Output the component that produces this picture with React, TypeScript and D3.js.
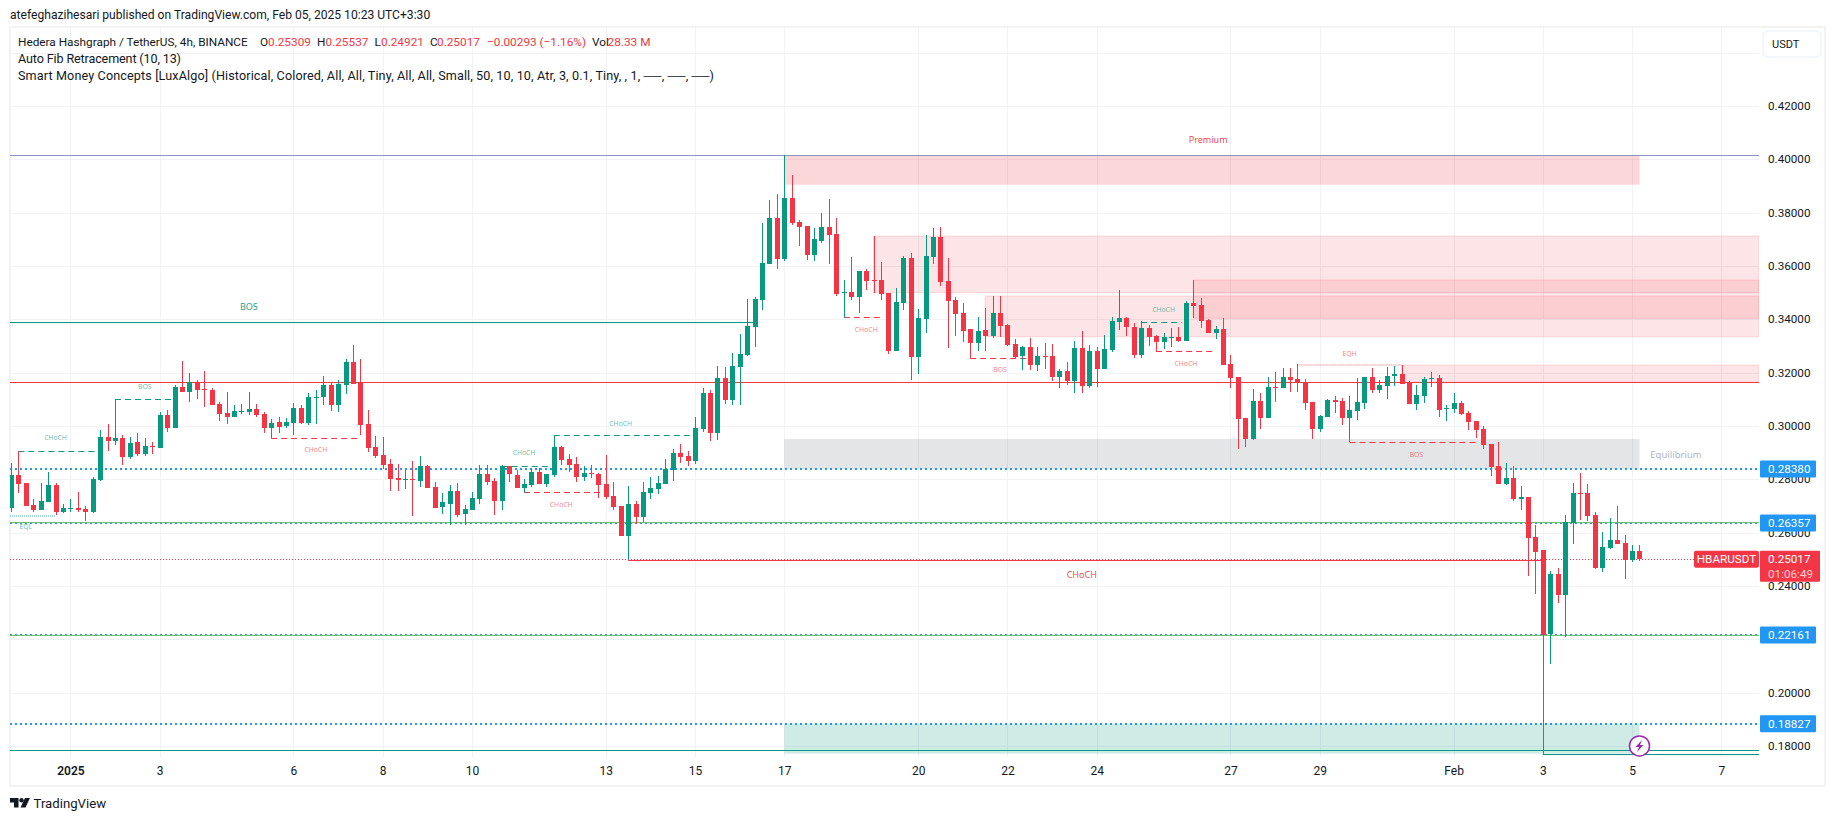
import { useEffect, useRef } from 'react'
import * as d3 from 'd3'

// 4h candles, first one is 8 bars before Jan 1
const opens = [
  .26908,.28158,.27858,.27033,.26845,.27145,.27783,.2677,.26883,.2692,
  .26883,.2677,.2797,.29583,.29433,.29545,.28833,.29395,.2895,.29245,
  .2917,.30408,.2992,.31458,.3127,.31645,.31382,.31345,.3082,.30483,
  .30333,.3052,.3052,.30633,.30445,.2992,.30145,.29995,.30108,.3067,
  .30108,.31045,.3107,.31533,.30783,.31533,.32383,.3162,.3007,.29208,
  .28908,.2857,.28045,.2797,.28008,.27933,.28495,.27708,.26958,.2707,
  .27558,.26695,.26845,.27258,.28195,.27933,.27183,.28495,.28158,.2767,
  .27783,.2827,.2782,.28158,.29208,.28758,.2857,.28083,.28233,.28195,
  .2782,.2737,.26995,.2587,.2707,.26583,.27483,.27633,.2782,.28345,
  .28983,.2887,.28683,.29883,.31233,.29733,.31795,.3097,.3222,.32658,
  .33708,.3472,.3607,.37795,.36258,.38545,.37645,.37495,.36408,.36933,
  .37458,.37195,.34983,.3502,.34833,.35808,.3547,.3547,.34983,.32808,
  .34608,.36295,.32583,.34008,.36333,.37083,.35433,.3472,.34233,.33633,
  .33108,.33595,.3337,.34233,.33783,.3307,.3262,.32958,.32283,.3262,
  .3262,.31833,.32058,.31683,.3292,.31495,.32808,.32133,.32845,.33895,
  .34045,.33708,.32658,.3367,.3337,.33145,.33295,.33333,.33183,.34608,
  .34533,.3397,.33483,.33633,.3232,.31833,.30295,.29508,.30933,.30295,
  .31458,.3142,.31833,.31758,.31645,.30895,.29883,.30333,.3097,.30933,
  .30295,.30558,.30858,.31833,.31345,.31495,.3187,.31945,.31645,.3082,
  .3112,.31758,.31795,.30633,.30633,.30858,.30483,.30183,.29883,.2932,
  .28495,.2782,.28045,.27258,.27333,.25833,.25345,.22195,.24445,.23658,
  .26358,.27483,.27483,.26658,.2467,.2542,.2572,.25608,.2497,.25309,
]
const highs = [
  .2862,.29058,.27858,.27258,.27858,.2827,.27858,.2707,.27258,.2752,
  .26995,.28083,.2985,.3007,.31008,.29658,.29583,.29733,.29545,.29395,
  .3052,.30595,.31533,.32433,.31983,.3172,.3207,.31408,.30908,.31283,
  .30783,.3082,.31283,.3082,.3052,.30258,.30333,.30295,.30858,.30783,
  .3125,.31345,.3187,.31658,.3172,.32495,.33033,.32508,.30595,.2962,
  .29583,.28758,.2857,.28345,.28683,.2887,.28533,.27895,.27483,.27783,
  .27858,.27033,.2752,.28533,.28533,.28045,.28533,.28495,.28345,.28008,
  .2842,.2842,.28195,.29658,.29245,.2895,.28833,.28495,.28533,.28233,
  .28908,.27895,.26995,.27745,.27183,.27895,.28083,.2812,.28758,.2912,
  .2932,.29058,.30333,.3142,.31345,.32245,.32195,.3272,.33445,.34758,
  .3485,.37608,.3847,.38695,.40146,.39408,.3772,.37495,.3742,.37983,
  .38508,.37795,.3547,.36333,.35808,.35883,.3712,.36145,.34983,.3517,
  .3637,.36483,.34383,.37158,.3742,.37458,.36295,.34833,.34608,.33633,
  .34083,.3442,.3487,.3487,.3382,.33258,.32995,.33295,.32958,.33108,
  .3307,.32133,.32395,.33183,.33558,.33033,.32958,.33408,.34083,.35095,
  .34083,.33858,.33933,.33783,.33408,.33483,.3367,.33708,.34683,.3547,
  .34795,.34008,.33745,.34045,.32658,.31833,.30295,.31383,.31233,.31833,
  .3202,.3217,.3217,.3232,.31758,.30895,.30408,.31008,.3112,.31045,
  .3112,.31795,.31833,.3217,.3172,.32208,.32245,.32283,.31683,.31533,
  .31833,.3202,.31908,.30783,.31233,.30933,.30558,.30183,.29995,.2932,
  .29395,.28608,.28495,.27745,.27333,.26283,.25345,.24558,.2467,.26658,
  .27858,.28233,.2782,.2677,.2602,.26545,.26995,.25908,.25533,.25537,
]
const lows = [
  .26783,.27495,.26995,.2677,.26845,.27145,.26658,.26733,.2677,.2677,
  .26433,.26733,.27933,.29058,.29283,.28533,.28758,.2887,.2887,.2895,
  .2917,.2977,.2992,.3127,.30908,.3102,.3072,.30783,.30183,.3007,
  .30333,.30445,.30408,.30333,.29733,.29533,.29733,.2992,.29658,.3007,
  .30033,.3007,.30783,.30558,.3052,.31195,.3157,.29658,.2902,.28795,
  .28383,.27558,.27558,.27633,.2662,.27708,.2767,.2692,.26695,.26283,
  .26583,.26283,.26845,.2707,.27783,.26658,.26845,.27895,.2767,.27495,
  .27708,.2782,.27708,.28083,.28533,.2827,.27895,.27933,.28045,.27295,
  .27258,.26845,.2587,.24995,.2632,.26395,.27258,.27445,.2782,.27933,
  .28608,.28495,.2857,.2977,.29433,.2947,.3082,.30783,.30783,.3262,
  .3294,.34345,.3607,.35883,.36183,.37533,.36745,.3622,.36183,.36858,
  .3607,.3487,.34045,.3472,.34233,.35095,.34983,.3472,.32695,.32808,
  .34345,.3172,.31958,.33483,.3607,.35245,.3292,.3337,.33145,.32545,
  .32808,.32808,.33295,.33333,.32995,.32508,.32095,.32095,.32058,.32133,
  .31683,.3142,.31533,.31233,.31233,.3142,.31458,.32133,.3277,.33595,
  .3337,.32545,.32545,.32995,.3277,.32883,.32958,.33145,.33183,.34045,
  .3367,.33483,.33258,.32283,.3142,.29133,.29208,.2947,.29883,.30295,
  .30895,.3142,.3127,.3127,.30595,.29508,.2977,.30333,.30483,.30033,
  .29395,.3022,.30633,.31233,.31233,.31008,.31495,.3157,.3082,.30595,
  .30858,.31458,.30333,.30183,.30483,.30408,.29845,.29545,.29133,.2812,
  .2782,.27783,.27183,.26845,.2437,.23695,.17695,.2107,.23358,.22083,
  .2557,.2647,.26433,.24633,.2452,.25383,.2557,.24258,.24895,.24921,
]
const closes = [
  .28158,.2782,.26995,.26845,.27183,.27783,.2677,.2692,.2692,.26845,
  .2677,.28008,.29583,.29433,.29545,.28833,.29358,.2895,.29245,.29208,
  .30408,.2992,.31458,.3127,.31633,.31345,.31345,.30783,.30445,.30333,
  .30558,.30558,.30633,.30408,.2992,.30108,.29958,.30145,.3067,.30108,
  .3107,.31095,.31533,.30783,.3157,.32383,.3157,.30033,.2917,.2887,
  .28533,.28008,.2797,.28008,.2797,.28495,.2767,.2692,.27145,.27558,
  .26658,.26883,.27295,.28195,.27895,.27183,.28495,.282,.2767,.2782,
  .2827,.2782,.28195,.29208,.2872,.28533,.28083,.28233,.28195,.27783,
  .27333,.26958,.2587,.2707,.26583,.2752,.2767,.27858,.28383,.28983,
  .28833,.28683,.2992,.31233,.29733,.31795,.3097,.32245,.32695,.33745,
  .34758,.36108,.37795,.36258,.38545,.37608,.37458,.36408,.37,.37458,
  .37158,.34945,.3502,.34833,.35808,.35433,.35433,.34945,.32808,.34645,
  .36295,.32583,.34045,.3637,.37083,.35395,.34683,.34195,.33558,.33108,
  .33558,.3337,.34233,.33745,.33033,.32583,.3297,.32283,.3262,.32583,
  .31833,.32058,.31683,.3292,.31495,.32808,.32133,.32883,.33933,.34045,
  .33708,.32658,.3367,.33333,.33145,.33333,.33333,.33183,.34608,.34495,
  .33933,.33483,.33633,.32283,.31795,.30258,.29508,.30933,.30295,.31458,
  .3142,.31833,.3172,.31633,.30858,.29883,.3037,.3097,.30895,.30295,
  .30595,.30895,.31833,.31345,.31533,.3187,.31945,.3157,.3082,.31158,
  .31758,.31795,.30595,.3067,.30858,.30445,.30145,.29845,.29283,.28458,
  .2782,.28045,.27258,.27333,.25795,.2527,.22158,.24445,.23658,.26395,
  .27483,.27445,.2662,.2467,.25458,.2572,.2557,.2497,.25308,.25017,
]

const priceTicks = [.42, .4, .38, .36, .34, .32, .3, .28, .26, .24, .22, .2, .18]
const gridPrices = [.44, ...priceTicks]
const dateTicks = ['2025-01-01', '2025-01-03', '2025-01-06', '2025-01-08', '2025-01-10', '2025-01-13', '2025-01-15', '2025-01-17', '2025-01-20', '2025-01-22', '2025-01-24', '2025-01-27', '2025-01-29', '2025-02-01', '2025-02-03', '2025-02-05', '2025-02-07']
const dateLabels = ['2025', '3', '6', '8', '10', '13', '15', '17', '20', '22', '24', '27', '29', 'Feb', '3', '5', '7']

const fibLevels = [.2838, .26357, .22161, .18827]
const lastClose = .25017

// [from bar, to bar (null = chart edge), top, bottom, kind]
const zones: [number, number | null, number, number, string][] = [
  [104, 219, .40146, .39044, 'premium'],
  [116, null, .3712, .34994, 'block'],
  [131, null, .3487, .33344, 'block'],
  [159, null, .3547, .34034, 'block'],
  [187, null, .32282, .31634, 'block'],
  [104, 219, .29507, .2838, 'equilibrium'],
  [104, 219, .18827, .1771, 'discount'],
]

// [from bar (null = chart edge), to bar (null = chart edge), price, colour]
const solidLines: [number | null, number | null, number, string][] = [
  [null, null, .40146, '#8c94c2'],
  [null, 100, .33883, '#089981'],
  [null, null, .31634, '#f23645'],
  [null, null, .26385, '#6fbf73'],
  [null, null, .22155, '#6fbf73'],
  [83, 206, .2497, '#f23645'],
  [null, null, .17845, '#089981'],
  [206, null, .17695, '#089981'],
]

// [from bar, to bar, price, up?]
const dashedLines: [number, number, number, boolean][] = [
  [1, 12, .29045, true],
  [14, 22, .31008, true],
  [35, 47, .29533, false],
  [66, 72.5, .28508, true],
  [69, 80, .27508, false],
  [73, 92, .29645, true],
  [112, 117, .34083, false],
  [129, 137, .32535, false],
  [152, 157.5, .33883, true],
  [154, 162, .32808, false],
  [180, 197, .29383, false],
]
const equalLines: [number | null, number, number, boolean][] = [
  [null, 6, .2662, true],
  [173, 187, .32283, false],
]

// [text, bar, price, size, colour]
const labels: [string, number, number, number, string][] = [
  ['CHoCH', 6, .2955, 6.8, 'up'],
  ['BOS', 18, .3147, 6.8, 'up'],
  ['CHoCH', 41, .2912, 6.8, 'down'],
  ['EQL', 2, .2622, 6.8, 'up'],
  ['BOS', 32, .3447, 9, 'up'],
  ['CHoCH', 69, .2901, 6.8, 'up'],
  ['CHoCH', 74, .2706, 6.8, 'down'],
  ['CHoCH', 82, .3010, 6.8, 'up'],
  ['CHoCH', 115, .3362, 6.8, 'down'],
  ['BOS', 133, .3212, 6.8, 'down'],
  ['CHoCH', 155, .3437, 6.8, 'up'],
  ['CHoCH', 158, .3233, 6.8, 'down'],
  ['EQH', 180, .3272, 6.8, 'down'],
  ['BOS', 189, .2893, 6.8, 'down'],
  ['CHoCH', 144, .2443, 9, 'down'],
  ['Premium', 161, .4072, 9, 'down'],
]

const legendLines = [
  'Auto Fib Retracement (10, 13)',
  'Smart Money Concepts [LuxAlgo] (Historical, Colored, All, All, Tiny, All, All, Small, 50, 10, 10, Atr, 3, 0.1, Tiny, , 1, ──, ──, ──)',
]

const UP = '#089981'
const DOWN = '#f23645'
const INK = '#131722'
const GRID = '#f1f2f4'
const FONT = 'Roboto, sans-serif'
const LABEL_FONT = '"Noto Sans", sans-serif'

export default function App() {
  const ref = useRef<SVGSVGElement | null>(null)
  useEffect(() => {
    if (!ref.current) return
    const svg = d3.select(ref.current)
    svg.selectAll('*').remove()
    const width = 1835
    const height = 821
    const pane = { left: 10, right: 1759, top: 28, bottom: 757 }

    const y = d3.scaleLinear().domain([0.4, 0.18]).range([159.2, 745.9])
    const x = d3
      .scaleUtc()
      .domain([new Date('2025-01-01T00:00Z'), new Date('2025-02-07T00:00Z')])
      .range([70.4, 1721.3])
    const barDate = (i: number) => new Date(Date.UTC(2025, 0, 1) + (i - 8) * 4 * 3600e3)
    const bx = (i: number | null, edge: number) => (i === null ? edge : x(barDate(i)))
    const crisp = (v: number) => Math.round(v) + 0.5

    svg.append('rect').attr('width', width).attr('height', height).attr('fill', '#fff')

    svg
      .append('clipPath')
      .attr('id', 'pane')
      .append('rect')
      .attr('x', pane.left)
      .attr('y', pane.top)
      .attr('width', pane.right - pane.left)
      .attr('height', pane.bottom - pane.top)

    // frame
    svg
      .append('rect')
      .attr('x', 10)
      .attr('y', 27)
      .attr('width', 1815)
      .attr('height', 759)
      .attr('fill', 'none')
      .attr('stroke', '#f3f3f3')
      .attr('stroke-width', 2)

    // grid
    const grid = svg.append('g').attr('stroke', GRID).attr('stroke-width', 1)
    grid
      .selectAll('line.h')
      .data(gridPrices)
      .enter()
      .append('line')
      .attr('x1', pane.left)
      .attr('x2', pane.right)
      .attr('y1', (d) => crisp(y(d)))
      .attr('y2', (d) => crisp(y(d)))
    grid
      .selectAll('line.v')
      .data(dateTicks)
      .enter()
      .append('line')
      .attr('x1', (d) => crisp(x(new Date(d))))
      .attr('x2', (d) => crisp(x(new Date(d))))
      .attr('y1', pane.top)
      .attr('y2', pane.bottom)

    const chart = svg.append('g').attr('clip-path', 'url(#pane)')

    // zones
    const zoneFill: Record<string, string> = {
      premium: 'rgba(242,54,69,0.2)',
      block: 'rgba(242,54,69,0.13)',
      equilibrium: 'rgba(120,123,134,0.2)',
      discount: 'rgba(8,153,129,0.2)',
    }
    chart
      .append('g')
      .selectAll('rect')
      .data(zones)
      .enter()
      .append('rect')
      .attr('x', (d) => bx(d[0], pane.left))
      .attr('y', (d) => y(d[2]))
      .attr('width', (d) => bx(d[1], pane.right) - bx(d[0], pane.left))
      .attr('height', (d) => y(d[3]) - y(d[2]))
      .attr('fill', (d) => zoneFill[d[4]])
      .attr('stroke', (d) => (d[4] === 'block' ? 'rgba(242,54,69,0.16)' : 'none'))

    // fib levels
    chart
      .append('g')
      .selectAll('line')
      .data(fibLevels)
      .enter()
      .append('line')
      .attr('x1', pane.left)
      .attr('x2', pane.right)
      .attr('y1', (d) => Math.round(y(d)))
      .attr('y2', (d) => Math.round(y(d)))
      .attr('stroke', '#2196f3')
      .attr('stroke-width', 2)
      .attr('stroke-dasharray', '2 3')

    // last price line
    chart
      .append('line')
      .attr('x1', pane.left)
      .attr('x2', pane.right)
      .attr('y1', crisp(y(lastClose)))
      .attr('y2', crisp(y(lastClose)))
      .attr('stroke', DOWN)
      .attr('stroke-dasharray', '1 2')

    // structure lines
    chart
      .append('g')
      .selectAll('line')
      .data(solidLines)
      .enter()
      .append('line')
      .attr('x1', (d) => bx(d[0], pane.left))
      .attr('x2', (d) => bx(d[1], pane.right))
      .attr('y1', (d) => crisp(y(d[2])))
      .attr('y2', (d) => crisp(y(d[2])))
      .attr('stroke', (d) => d[3])
    chart
      .append('g')
      .selectAll('line')
      .data(dashedLines)
      .enter()
      .append('line')
      .attr('x1', (d) => bx(d[0], pane.left))
      .attr('x2', (d) => bx(d[1], pane.right))
      .attr('y1', (d) => crisp(y(d[2])))
      .attr('y2', (d) => crisp(y(d[2])))
      .attr('stroke', (d) => (d[3] ? UP : DOWN))
      .attr('stroke-dasharray', '6 4')
    chart
      .append('g')
      .selectAll('line')
      .data(equalLines)
      .enter()
      .append('line')
      .attr('x1', (d) => bx(d[0], pane.left))
      .attr('x2', (d) => bx(d[1], pane.right))
      .attr('y1', (d) => y(d[2]))
      .attr('y2', (d) => y(d[2]))
      .attr('stroke', (d) => (d[3] ? UP : DOWN))
      .attr('stroke-width', 1.5)
      .attr('stroke-opacity', 0.5)
      .attr('stroke-dasharray', '1 1')

    // candles
    const bars = d3.range(opens.length)
    const candles = chart.append('g').attr('shape-rendering', 'crispEdges')
    const color = (i: number) => (closes[i] >= opens[i] ? UP : DOWN)
    candles
      .selectAll('line')
      .data(bars)
      .enter()
      .append('line')
      .attr('x1', (i) => crisp(x(barDate(i))))
      .attr('x2', (i) => crisp(x(barDate(i))))
      .attr('y1', (i) => y(highs[i]))
      .attr('y2', (i) => y(lows[i]))
      .attr('stroke', color)
    candles
      .selectAll('rect')
      .data(bars)
      .enter()
      .append('rect')
      .attr('x', (i) => Math.round(x(barDate(i))) - 2)
      .attr('y', (i) => y(Math.max(opens[i], closes[i])))
      .attr('width', 5)
      .attr('height', (i) => Math.max(1, Math.abs(y(opens[i]) - y(closes[i]))))
      .attr('fill', color)

    // structure labels
    svg
      .append('g')
      .attr('font-family', LABEL_FONT)
      .attr('text-anchor', 'middle')
      .selectAll('text')
      .data(labels)
      .enter()
      .append('text')
      .attr('x', (d) => x(barDate(d[1])))
      .attr('y', (d) => y(d[2]))
      .attr('dy', '0.35em')
      .attr('font-size', (d) => d[3])
      .attr('fill', (d) => (d[4] === 'up' ? UP : DOWN))
      .attr('fill-opacity', (d) => (d[3] < 8 ? 0.65 : 0.95))
      .text((d) => d[0])
    svg
      .append('text')
      .attr('x', 1676)
      .attr('y', 455)
      .attr('dy', '0.35em')
      .attr('text-anchor', 'middle')
      .attr('font-family', LABEL_FONT)
      .attr('font-size', 9.5)
      .attr('fill', '#b2b5be')
      .text('Equilibrium')

    // price axis
    const yAxis = svg
      .append('g')
      .attr('transform', `translate(${pane.right},0)`)
      .call(
        d3
          .axisRight(y)
          .tickValues(priceTicks)
          .tickSize(0)
          .tickPadding(9)
          .tickFormat((d) => (+d).toFixed(5)),
      )
    yAxis.select('.domain').remove()
    yAxis.selectAll('text').attr('font-family', FONT).attr('font-size', 11.7).attr('fill', INK)

    // time axis
    const xAxis = svg
      .append('g')
      .attr('transform', `translate(0,${pane.bottom})`)
      .call(
        d3
          .axisBottom(x)
          .tickValues(dateTicks.map((d) => new Date(d)))
          .tickSize(0)
          .tickPadding(9)
          .tickFormat((_, i) => dateLabels[i]),
      )
    xAxis.select('.domain').remove()
    xAxis
      .selectAll('text')
      .attr('font-family', FONT)
      .attr('font-size', 12)
      .attr('fill', INK)
      .attr('font-weight', (_, i) => (i === 0 ? 600 : 400))

    // fib tags
    const tags = svg.append('g').attr('font-family', FONT).attr('font-size', 11.7)
    const tag = tags.selectAll('g').data(fibLevels).enter().append('g')
    tag
      .append('rect')
      .attr('x', pane.right + 1)
      .attr('y', (d) => y(d) - 8.5)
      .attr('width', 56)
      .attr('height', 17)
      .attr('rx', 1)
      .attr('fill', '#2196f3')
    tag
      .append('text')
      .attr('x', pane.right + 9)
      .attr('y', (d) => y(d))
      .attr('dy', '0.35em')
      .attr('fill', '#fff')
      .text((d) => d.toFixed(5))

    // last price tag
    const lastY = y(lastClose)
    tags
      .append('rect')
      .attr('x', pane.right + 1)
      .attr('y', lastY - 8)
      .attr('width', 60)
      .attr('height', 31)
      .attr('rx', 1)
      .attr('fill', DOWN)
    tags
      .append('text')
      .attr('x', pane.right + 9)
      .attr('y', lastY)
      .attr('dy', '0.35em')
      .attr('fill', '#fff')
      .text(lastClose.toFixed(5))
    tags
      .append('text')
      .attr('x', pane.right + 9)
      .attr('y', lastY + 15)
      .attr('dy', '0.35em')
      .attr('fill', '#fff')
      .attr('fill-opacity', 0.75)
      .text('01:06:49')
    tags
      .append('rect')
      .attr('x', 1694)
      .attr('y', lastY - 8)
      .attr('width', 65)
      .attr('height', 17)
      .attr('rx', 2)
      .attr('fill', DOWN)
    tags
      .append('text')
      .attr('x', 1726.5)
      .attr('y', lastY)
      .attr('dy', '0.35em')
      .attr('text-anchor', 'middle')
      .attr('fill', '#fff')
      .text('HBARUSDT')

    // USDT button
    svg
      .append('rect')
      .attr('x', 1763)
      .attr('y', 31)
      .attr('width', 58)
      .attr('height', 26)
      .attr('rx', 5)
      .attr('fill', '#fff')
      .attr('stroke', '#f0f3fa')
      .attr('stroke-width', 1.5)
    svg
      .append('text')
      .attr('x', 1772)
      .attr('y', 44.5)
      .attr('dy', '0.35em')
      .attr('font-family', FONT)
      .attr('font-size', 11)
      .attr('fill', INK)
      .text('USDT')

    // header and legend
    const head = svg.append('g').attr('font-family', FONT).attr('fill', INK)
    head
      .append('text')
      .attr('x', 10)
      .attr('y', 15)
      .attr('dy', '0.35em')
      .attr('font-size', 12.1)
      .text('atefeghazihesari published on TradingView.com, Feb 05, 2025 10:23 UTC+3:30')
    const legendTop: [string, number, string][] = [
      ['Hedera Hashgraph / TetherUS, 4h, BINANCE', 18, INK],
      ['O', 260, INK],
      ['0.25309', 268, DOWN],
      ['H', 317, INK],
      ['0.25537', 325.5, DOWN],
      ['L', 374.5, INK],
      ['0.24921', 381, DOWN],
      ['C', 430, INK],
      ['0.25017', 437, DOWN],
      ['−0.00293 (−1.16%)', 487, DOWN],
      ['Vol', 592, INK],
      ['28.33 M', 607.6, DOWN],
    ]
    head
      .selectAll('text.top')
      .data(legendTop)
      .enter()
      .append('text')
      .attr('x', (d) => d[1])
      .attr('y', 41.7)
      .attr('dy', '0.35em')
      .attr('font-size', 11.8)
      .attr('fill', (d) => d[2])
      .text((d) => d[0])
    const legendWidths = [163, 696]
    head
      .selectAll('text.rest')
      .data(legendLines)
      .enter()
      .append('text')
      .attr('x', 18)
      .attr('y', (_, i) => 59 + i * 17)
      .attr('dy', '0.35em')
      .attr('font-size', 12.6)
      .attr('textLength', (_, i) => legendWidths[i])
      .text((d) => d)

    // bolt marker
    const bolt = svg.append('g').attr('transform', `translate(${x(barDate(219))},${y(0.18)})`)
    bolt
      .append('circle')
      .attr('r', 10)
      .attr('fill', '#fff')
      .attr('stroke', '#9c27b0')
      .attr('stroke-width', 1.5)
    bolt.append('path').attr('d', 'M2.5,-6 L-4,1 L-0.5,1 L-2.5,6 L4,-1 L0.5,-1 Z').attr('fill', '#9c27b0')

    // logo
    const logo = svg.append('g').attr('fill', INK)
    logo.append('path').attr('d', 'M10,798 H18.5 V807.5 H14 V802.5 H10 Z')
    logo.append('circle').attr('cx', 21.5).attr('cy', 800.3).attr('r', 2.2)
    logo.append('path').attr('d', 'M25,798 H30 L25.5,807.5 H20.5 Z')
    svg
      .append('text')
      .attr('x', 33.5)
      .attr('y', 803)
      .attr('dy', '0.35em')
      .attr('font-family', FONT)
      .attr('font-size', 13.2)
      .attr('fill', INK)
      .text('TradingView')
  }, [])
  return (
    <svg
      ref={ref}
      width={1835}
      height={821}
      style={{ position: 'absolute', left: 0, top: 0, display: 'block' }}
    />
  )
}
